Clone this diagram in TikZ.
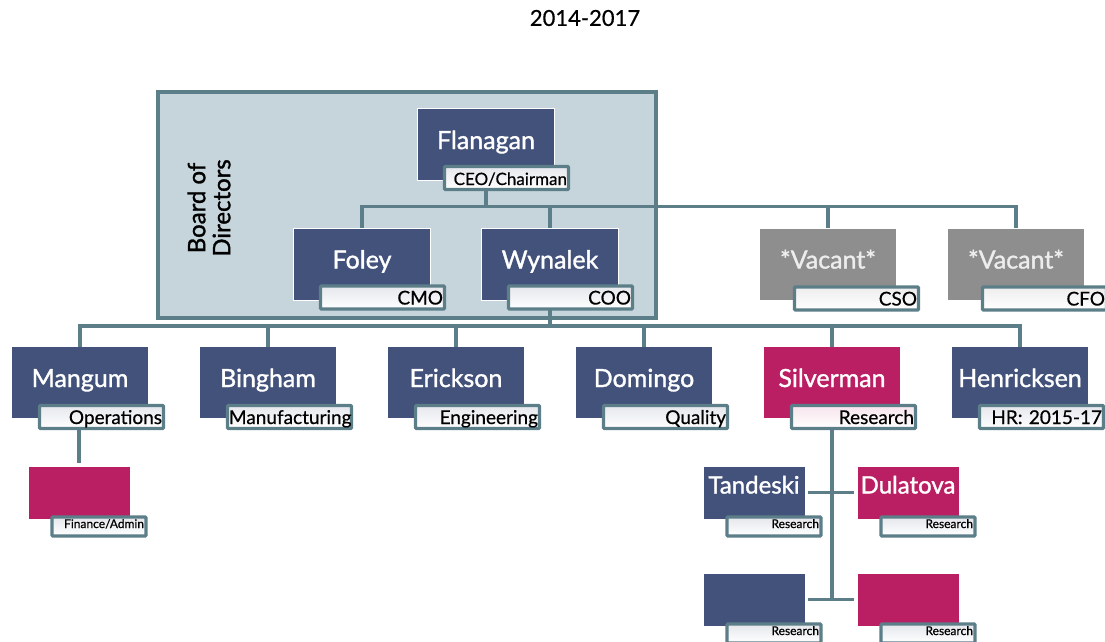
\documentclass[tikz,border=0pt]{standalone}
\usepackage{fontspec}
\setmainfont{Lato}
\newfontfamily\namefont{Lato}[FakeBold=1.3]
\newfontfamily\tagfont{Lato}[FakeBold=0.6]
\usetikzlibrary{positioning}
\usetikzlibrary{calc}

\definecolor{navy}{HTML}{43527B}
\definecolor{berry}{HTML}{BB1F63}
\definecolor{vacgray}{HTML}{8E8E8E}
\definecolor{wirecol}{HTML}{5B7E89}
\definecolor{boardfill}{HTML}{C6D4DB}

\begin{document}
\begin{tikzpicture}[x=1pt, y=-1pt,
    every node/.style={outer sep=0pt},
    boss/.style={rectangle, fill=navy, draw=white, line width=1pt, minimum width=137pt, minimum height=72pt,
        inner sep=0pt, text=white, font=\namefont\fontsize{25}{28}\selectfont, text height=19pt, text depth=10pt},
    lead/.style={boss, fill=berry},
    vacant/.style={boss, fill=vacgray, text=white!93!black},
    staff/.style={boss, minimum width=102pt, minimum height=53pt, font=\namefont\fontsize{24}{26}\selectfont,
        text height=18pt, text depth=16pt},
    tag/.style={rectangle, rounded corners=1pt, draw=wirecol, line width=3.4pt, top color=navy!14, bottom color=white,
        minimum width=124pt, minimum height=23pt, text width=121pt, align=right, inner xsep=1.5pt, inner ysep=0pt,
        font=\tagfont\fontsize{19}{20}\selectfont, text height=14pt, text depth=0pt, anchor=south east},
    smalltag/.style={tag, minimum width=94pt, minimum height=19pt, text width=90pt, inner xsep=2pt,
        font=\tagfont\fontsize{12}{13}\selectfont, text height=9pt, text depth=6pt},
    wire/.style={draw=wirecol, line width=3.4pt},
    board/.style={rectangle, fill=boardfill, draw=wirecol, line width=3.4pt, minimum width=498pt, minimum height=226pt}]
        \useasboundingbox (0,0) rectangle (1105,641);

        \node[font=\tagfont\fontsize{22}{24}\selectfont] (title) at (585,18) {2014-2017};

        % board of directors
        \node[board] (board) at (407,205) {};
        \node[rotate=90, align=center, font=\namefont\fontsize{24}{25}\selectfont] (boardlbl) at (209,208) {Board of\\Directors};

        \node[boss] (flanagan) at (486,144.5) {Flanagan};
        \node[tag, font=\tagfont\fontsize{17}{18}\selectfont] (ceo) at ($(flanagan.south east)+(14,9)$) {CEO/Chairman};

        \node[boss] (foley) at (362,264) {Foley};
        \node[boss, right=51pt of foley] (wynalek) {Wynalek};
        \node[vacant] (cso) at (828,264) {*Vacant*};
        \node[vacant, right=51pt of cso] (cfo) {*Vacant*};
        \node[tag] (cmo-t) at ($(foley.south east)+(14,9)$) {CMO};
        \node[tag] (coo-t) at ($(wynalek.south east)+(14,9)$) {COO};
        \node[tag, top color=black!7] (cso-t) at ($(cso.south east)+(22,10)$) {CSO};
        \node[tag, top color=black!7] (cfo-t) at ($(cfo.south east)+(22,10)$) {CFO};

        % department heads
        \node[boss] (mangum) at (80,382.5) {Mangum};
        \node[boss, right=51pt of mangum] (bingham) {Bingham};
        \node[boss, right=51pt of bingham] (erickson) {Erickson};
        \node[boss, right=51pt of erickson] (domingo) {Domingo};
        \node[lead, right=51pt of domingo] (silverman) {Silverman};
        \node[boss, right=51pt of silverman] (henricksen) {Henricksen};
        \node[tag] (ops) at ($(mangum.south east)+(15,10)$) {Operations};
        \node[tag] (manu) at ($(bingham.south east)+(15,10)$) {Manufacturing};
        \node[tag] (eng) at ($(erickson.south east)+(15,10)$) {Engineering};
        \node[tag] (qual) at ($(domingo.south east)+(15,10)$) {Quality};
        \node[tag, top color=berry!12] (res) at ($(silverman.south east)+(15,10)$) {Research};
        \node[tag] (hr) at ($(henricksen.south east)+(15,10)$) {HR: 2015-17};

        % staff
        \node[staff, fill=berry] (finance) at (79,492.5) {};
        \node[smalltag] (fin-t) at ($(finance.south east)+(16,17)$) {Finance/Admin};
        \node[staff] (tandeski) at (754,492.5) {Tandeski};
        \node[staff, fill=berry, right=52pt of tandeski] (dulatova) {Dulatova};
        \node[staff, below=54pt of tandeski] (rs-left) {};
        \node[staff, fill=berry, right=52pt of rs-left] (rs-right) {};
        \node[smalltag] (tan-t) at ($(tandeski.south east)+(16,17)$) {Research};
        \node[smalltag] (dul-t) at ($(dulatova.south east)+(16,17)$) {Research};
        \node[smalltag] (rsl-t) at ($(rs-left.south east)+(16,17)$) {Research};
        \node[smalltag] (rsr-t) at ($(rs-right.south east)+(16,17)$) {Research};

        \draw[wire] (flanagan.south |- ceo.south) -- ++(0,17) coordinate (topbus);
        \draw[wire] (topbus) -| (foley.north);
        \draw[wire] (topbus) -| (wynalek.north);
        \draw[wire] (topbus) -| (cso.north);
        \draw[wire] (topbus) -| (cfo.north);

        \draw[wire] (wynalek.south |- coo-t.south) -- ++(0,17) coordinate (midbus);
        \draw[wire] (midbus) -| (mangum.north);
        \draw[wire] (midbus) -| (bingham.north);
        \draw[wire] (midbus) -| (erickson.north);
        \draw[wire] (midbus) -| (domingo.north);
        \draw[wire] (midbus) -| (silverman.north);
        \draw[wire] (midbus) -| (henricksen.north);

        \draw[wire, shorten >=3pt] (finance.north |- ops.south) -- (finance.north);
        \draw[wire] (silverman.south |- res.south) -- (silverman.south |- rs-left.east);
        \draw[wire, shorten <=3pt, shorten >=3pt] (tandeski.east) -- (dulatova.west);
        \draw[wire, shorten <=3pt, shorten >=3pt] (rs-left.east) -- (rs-right.west);
    \end{tikzpicture}
\end{document}
